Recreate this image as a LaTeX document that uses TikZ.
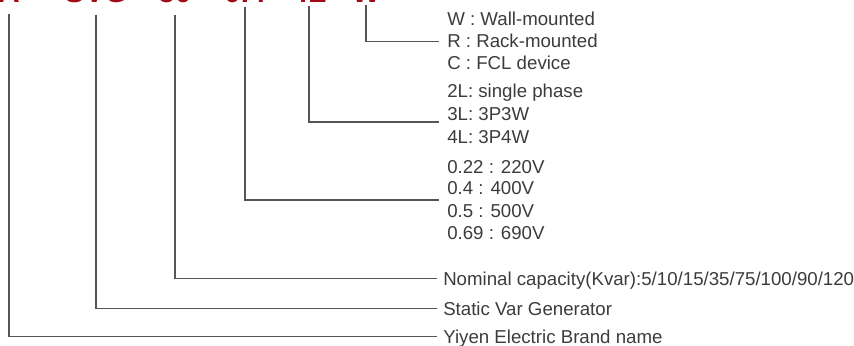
\documentclass[tikz,border=0pt]{standalone}
\usepackage{fontspec}
\setmainfont{Liberation Sans}
\usetikzlibrary{positioning, calc}
\definecolor{CodeRed}{RGB}{160, 10, 20}
\definecolor{Ink}{RGB}{60, 60, 60}
\definecolor{Wire}{RGB}{85, 85, 85}
\tikzstyle{code} = [anchor=base, inner sep=0pt, text=CodeRed, font=\fontsize{22.5}{24}\selectfont\bfseries]
\tikzstyle{item} = [anchor=base west, inner sep=0pt, text=Ink, text height=10pt, text depth=0pt, font=\fontsize{14}{16}\selectfont]
\tikzstyle{wire} = [Wire, line width=0.85pt]

\begin{document}
\begin{tikzpicture}[x=0.75pt, y=-0.75pt]
\useasboundingbox (0,0) rectangle (854,346);

% Model code, cut by the top edge
\node (brand) [code] at (9,3) {A};
\node (type) [code] at (96,3) {SVG};
\node (cap) [code] at (175,3) {50};
\node (volt) [code] at (245,3) {0.4};
\node (wires) [code] at (309,3) {4L};
\node (mount) [code] at (366,3) {W};

% Mounting
\node (wall) [item] at (447,26) {W : Wall-mounted};
\node (rack) [item] at (447,48) {R : Rack-mounted};
\node (fcl) [item] at (447,70) {C : FCL device};

% Wiring
\node (ph2) [item] at (447,98) {2L: single phase};
\node (ph3) [item] at (447,121) {3L: 3P3W};
\node (ph4) [item] at (447,143) {4L: 3P4W};

% Voltage
\node (v22) [item] at (447,173) {0.22 : 220V};
\node (v40) [item] at (447,195) {0.4 : 400V};
\node (v50) [item] at (447,217) {0.5 : 500V};
\node (v69) [item] at (447,239) {0.69 : 690V};

% Capacity, type, brand
\node (nominal) [item] at (443,285) {Nominal capacity(Kvar):5/10/15/35/75/100/90/120};
\node (svg) [item] at (443,315) {Static Var Generator};
\node (yiyen) [item] at (443,343) {Yiyen Electric Brand name};

% Leader lines
\draw [wire] ($(mount.south)+(0,2)$) |- ($(rack.west)+(-8,0)$);
\draw [wire] ($(wires.south)+(0,3)$) |- ($(ph3.base west)+(-8,1)$);
\draw [wire] ($(volt.south)+(0,3)$) |- ($(v40.base west)+(-8,5)$);
\draw [wire] ($(cap.south)+(0,11)$) |- ($(nominal.west)+(-6,0)$);
\draw [wire] ($(type.south)+(0,11)$) |- ($(svg.west)+(-6,0)$);
\draw [wire] ($(brand.south)+(0,11)$) |- ($(yiyen.west)+(-6,0)$);

\end{tikzpicture}
\end{document}
